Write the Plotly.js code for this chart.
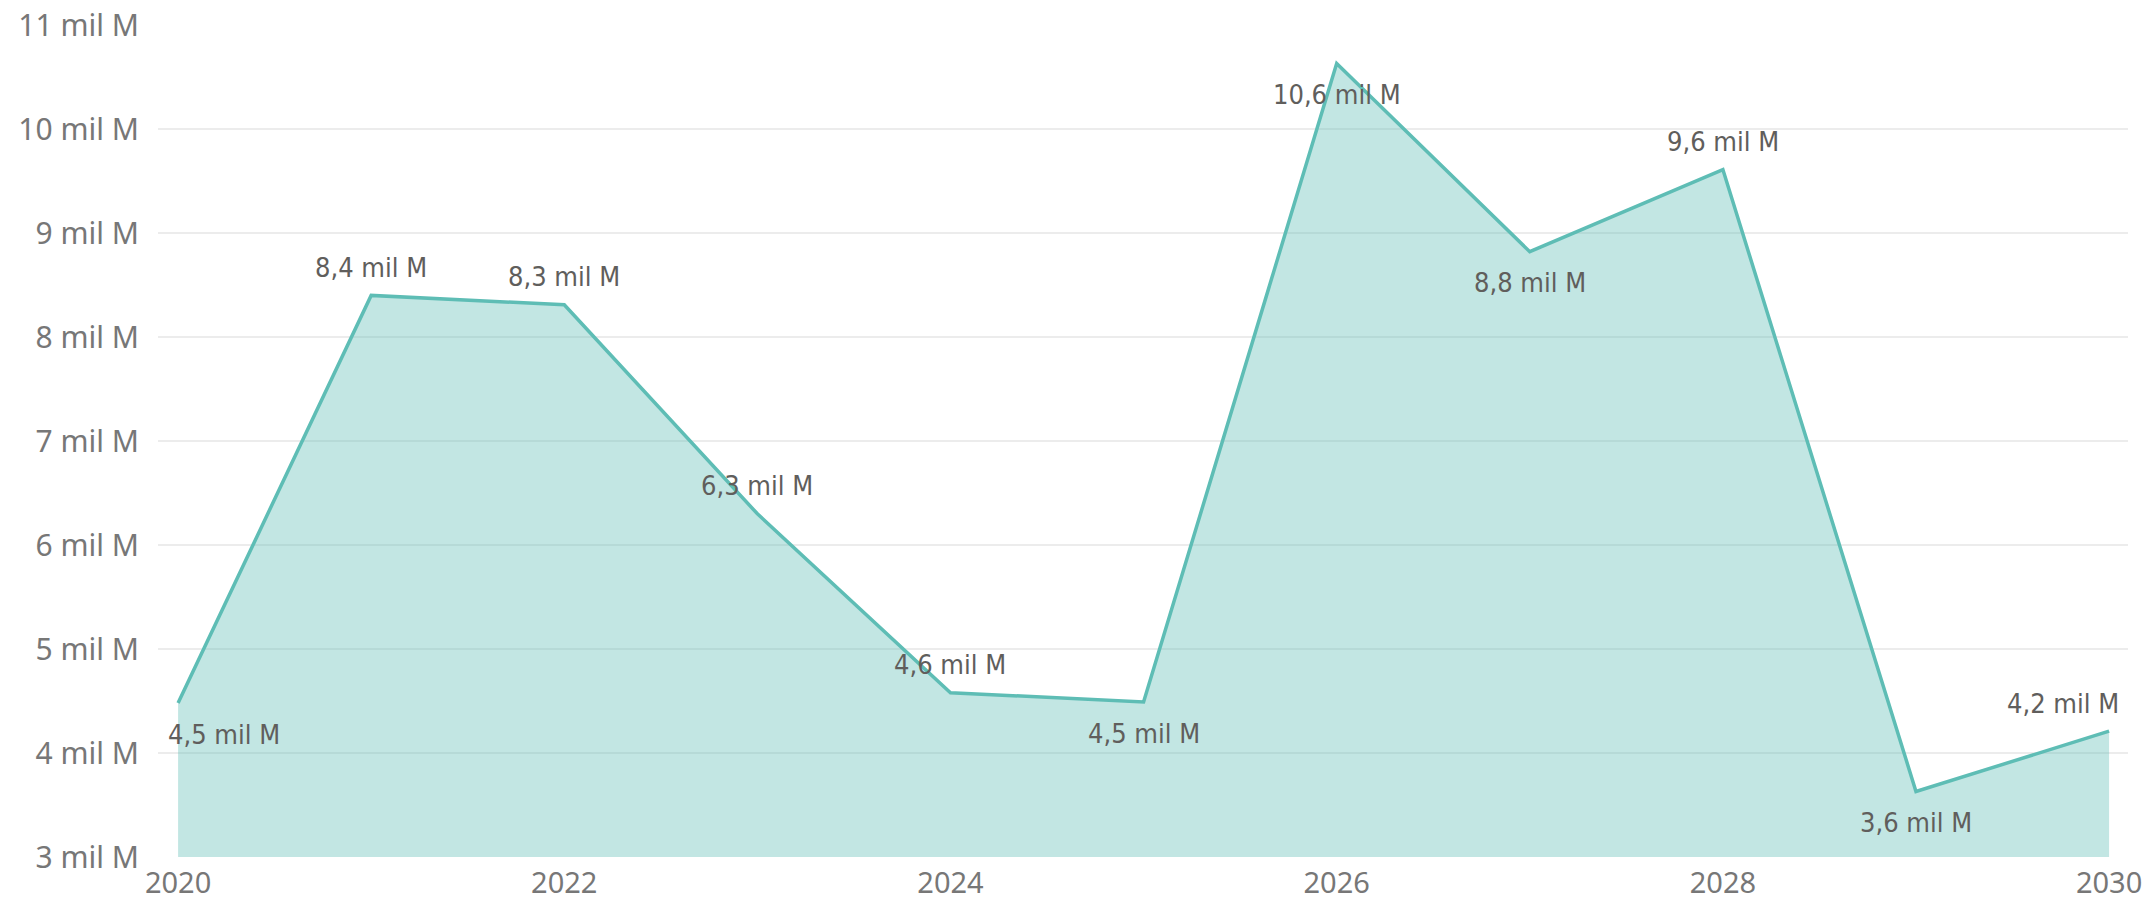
<!DOCTYPE html>
<html>
<head>
<meta charset="utf-8">
<script src="https://cdn.plot.ly/plotly-3.0.1.min.js"></script>
<style>
  html, body { margin: 0; padding: 0; background: #ffffff; }
  #chart { width: 2150px; height: 903px; }
</style>
</head>
<body>
<div id="chart"></div>
<script>
// Data (values in "mil M")
const years = [2020, 2021, 2022, 2023, 2024, 2025, 2026, 2027, 2028, 2029, 2030];
const values = [4.48, 8.40, 8.31, 6.30, 4.58, 4.49, 10.63, 8.82, 9.61, 3.63, 4.21];
// label placement relative to point: 'top' or 'bottom'
const labelSides = ['bottom', 'top', 'top', 'top', 'top', 'bottom', 'bottom', 'bottom', 'top', 'bottom', 'top'];
const yTickVals = [3, 4, 5, 6, 7, 8, 9, 10, 11];
const yTickText = ['3 mil M', '4 mil M', '5 mil M', '6 mil M', '7 mil M', '8 mil M', '9 mil M', '10 mil M', '11 mil M'];
const xTickVals = [2020, 2022, 2024, 2026, 2028, 2030];

const fmt = v => v.toFixed(1).replace('.', ',') + ' mil M';
const labelFont = { family: "DIN, 'Liberation Sans Narrow', 'DejaVu Sans Condensed', 'Noto Sans', sans-serif", size: 27, color: '#605e5c' };
const tickFont = { family: "'Segoe UI', 'Noto Sans', 'Open Sans', sans-serif", size: 30, color: '#777777' };
const xTickFont = { family: "'Segoe UI', 'Noto Sans', 'Open Sans', sans-serif", size: 29, color: '#777777' };

const trace = {
  x: years,
  y: values,
  type: 'scatter',
  mode: 'lines',
  fill: 'tozeroy',
  fillcolor: 'rgba(95,188,181,0.38)',
  line: { color: '#5ebdb5', width: 3.5 },
  hoverinfo: 'x+y'
};

const annotations = years.map((yr, i) => {
  let xanchor = 'center', xshift = 0;
  if (i === 0) { xanchor = 'left'; xshift = -12; }
  if (i === years.length - 1) { xanchor = 'right'; xshift = 12; }
  return {
    x: yr, y: values[i], xref: 'x', yref: 'y',
    text: fmt(values[i]), showarrow: false,
    xanchor: xanchor, yanchor: 'middle', xshift: xshift,
    yshift: labelSides[i] === 'top' ? 28 : -31,
    font: labelFont
  };
});

const layout = {
  width: 2150, height: 903,
  margin: { l: 158, r: 22, t: 25, b: 46 },
  paper_bgcolor: '#ffffff', plot_bgcolor: '#ffffff',
  showlegend: false,
  xaxis: {
    range: [2019.896, 2030.098],
    tickvals: xTickVals,
    ticktext: xTickVals.map(String),
    showgrid: false, zeroline: false, showline: false,
    ticks: '', tickfont: xTickFont, ticklabelstandoff: 6
  },
  yaxis: {
    range: [3, 11],
    tickvals: yTickVals,
    ticktext: yTickText,
    showgrid: true, gridcolor: '#ececec', gridwidth: 2,
    zeroline: false, showline: false,
    ticks: '', tickfont: tickFont, ticklabelstandoff: 18
  },
  annotations: annotations
};

Plotly.newPlot('chart', [trace], layout, { displayModeBar: false, staticPlot: true });
</script>
</body>
</html>
